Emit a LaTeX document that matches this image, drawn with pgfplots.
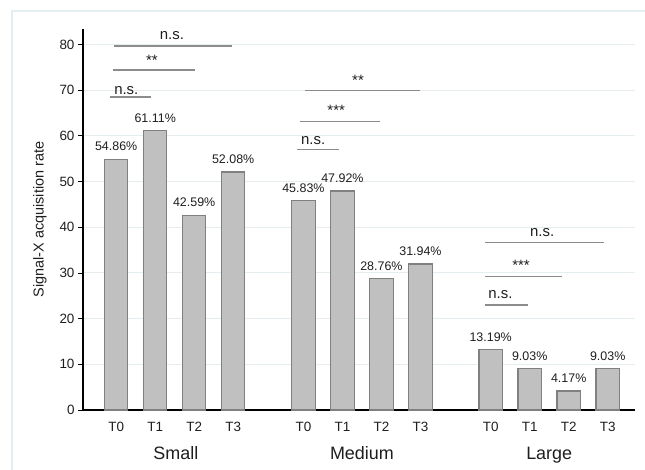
\documentclass[border=0pt]{standalone}
\usepackage{pgfplots}
\pgfplotsset{compat=1.18}
\usepackage{fontspec}
\setmainfont{Liberation Sans}
\definecolor{barfill}{RGB}{192,192,192}
\definecolor{baredge}{RGB}{128,128,128}
\definecolor{sigline}{RGB}{140,140,140}
\definecolor{gridc}{RGB}{230,237,241}
\definecolor{framec}{RGB}{228,237,240}
\definecolor{txt}{RGB}{30,30,30}
\pgfplotstableread{
x y
0 54.86
1 61.11
2 42.59
3 52.08
4.8 45.83
5.8 47.92
6.8 28.76
7.8 31.94
9.6 13.19
10.6 9.03
11.6 4.17
12.6 9.03
}\bars
\begin{document}
\begin{tikzpicture}
\useasboundingbox (0,0) rectangle (645bp,470bp);
\draw[framec, line width=1.8bp] (12bp,459bp) rectangle (700bp,-50bp);
\begin{axis}[
  anchor=south west, at={(83bp,60bp)},
  scale only axis, width=552bp, height=381bp,
  xmin=-0.85, xmax=13.3, ymin=0, ymax=83.4,
  axis x line=bottom, axis y line=left,
  axis line style={-, black, line width=1.1bp},
  tick align=outside, major tick length=5bp,
  x tick style={draw=none},
  y tick style={black, line width=0.8bp},
  ytick={0,10,...,80},
  xtick={0,1,2,3,4.8,5.8,6.8,7.8,9.6,10.6,11.6,12.6},
  xticklabels={T0,T1,T2,T3,T0,T1,T2,T3,T0,T1,T2,T3},
  ymajorgrids, grid style={gridc, line width=1bp},
  /pgf/number format/assume math mode=true,
  ticklabel style={font=\fontsize{13.5}{15}\selectfont, text=txt},
  xticklabel style={anchor=base, yshift=-16bp},
  ylabel={Signal-X acquisition rate},
  ylabel style={at={(axis description cs:-0.0779,0.5)}, anchor=center, font=\fontsize{14.5}{16}\selectfont, text=txt},
  clip=false,
]
\addplot[ybar, bar width=0.6, fill=barfill, draw=baredge, line width=1.2bp,
  point meta=y,
  nodes near coords={\pgfmathprintnumber[fixed,fixed zerofill,precision=2]{\pgfplotspointmeta}\%},
  every node near coord/.append style={anchor=base, yshift=8.5bp, font=\fontsize{12.5}{14}\selectfont, text=txt, inner sep=0pt}]
  table[x=x,y=y] {\bars};
% significance lines
\addplot[sigline, line width=1.4bp] coordinates {(-0.154,68.5) (0.89,68.5)};
\addplot[sigline, line width=1.4bp] coordinates {(-0.085,74.4) (2.02,74.4)};
\addplot[sigline, line width=1.4bp] coordinates {(-0.05,79.7) (2.96,79.7)};
\addplot[sigline, line width=1.4bp] coordinates {(4.63,57.0) (5.72,57.0)};
\addplot[sigline, line width=1.4bp] coordinates {(4.70,63.2) (6.77,63.2)};
\addplot[sigline, line width=1.4bp] coordinates {(4.85,70.0) (7.78,70.0)};
\addplot[sigline, line width=1.4bp] coordinates {(9.46,23.0) (10.56,23.0)};
\addplot[sigline, line width=1.4bp] coordinates {(9.46,29.2) (11.43,29.2)};
\addplot[sigline, line width=1.4bp] coordinates {(9.46,36.6) (12.51,36.6)};
\begin{scope}[every node/.style={anchor=base, text=txt, inner sep=0pt, font=\fontsize{15}{17}\selectfont}]
\node at (axis cs:0.26,69.1) {n.s.};
\node at (axis cs:0.915,75.5) {**};
\node at (axis cs:1.43,81.1) {n.s.};
\node at (axis cs:5.05,58.2) {n.s.};
\node at (axis cs:5.64,64.5) {***};
\node at (axis cs:6.2,71.1) {**};
\node at (axis cs:9.85,24.3) {n.s.};
\node at (axis cs:10.38,30.6) {***};
\node at (axis cs:10.92,37.9) {n.s.};
\end{scope}
\begin{scope}[every node/.style={anchor=base, text=txt, inner sep=0pt, font=\fontsize{18}{20}\selectfont}]
\node at (axis cs:1.53,0) [yshift=-49.5bp] {Small};
\node at (axis cs:6.3,0) [yshift=-49.5bp] {Medium};
\node at (axis cs:11.1,0) [yshift=-49.5bp] {Large};
\end{scope}
\end{axis}
\end{tikzpicture}
\end{document}
